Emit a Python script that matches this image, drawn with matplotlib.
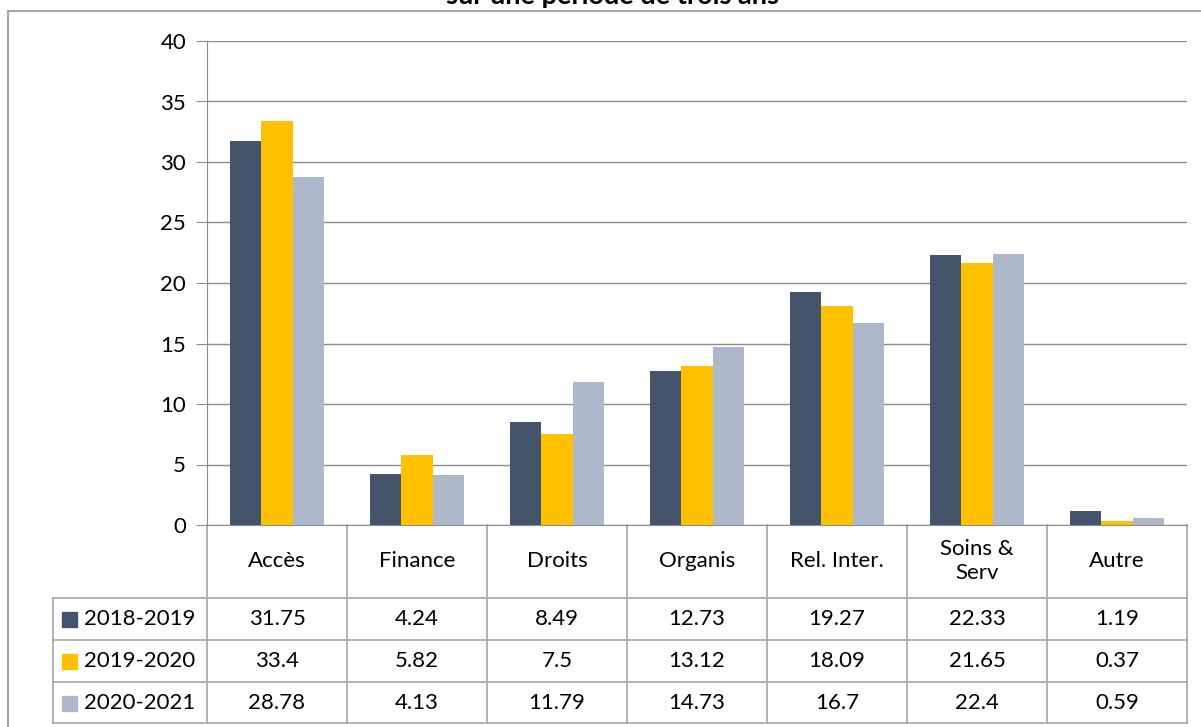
import matplotlib.pyplot as plt
import matplotlib.transforms as mtransforms
from matplotlib.patches import Rectangle
import numpy as np

plt.rcParams['font.family'] = ['Lato', 'DejaVu Sans']

categories = ["Accès", "Finance", "Droits", "Organis", "Rel. Inter.", "Soins &\nServ", "Autre"]
periods = ["2018-2019", "2019-2020", "2020-2021"]
v_2018 = [31.75, 4.24, 8.49, 12.73, 19.27, 22.33, 1.19]
v_2019 = [33.4, 5.82, 7.5, 13.12, 18.09, 21.65, 0.37]
v_2020 = [28.78, 4.13, 11.79, 14.73, 16.7, 22.4, 0.59]
colors = ["#44546A", "#FFC000", "#ADB9CA"]
series = [v_2018, v_2019, v_2020]

W, H = 1201, 727
fs = 16
fig = plt.figure(figsize=(W / 100, H / 100), dpi=100)
ax = fig.add_axes([207 / W, 1 - 525 / H, 980 / W, 484 / H])

x = np.arange(len(categories))
bw = 0.222
for i, (vals, c) in enumerate(zip(series, colors)):
    ax.bar(x + (i - 1) * bw, vals, width=bw, color=c, zorder=3)

ax.set_xlim(-0.5, len(categories) - 0.5)
ax.set_ylim(0, 40)
ax.set_yticks(range(0, 41, 5))
ax.yaxis.grid(True, color="#8C8C8C", linewidth=1)
ax.set_axisbelow(True)
ax.set_xticks([])
ax.tick_params(axis='y', length=8, color="#8C8C8C", labelsize=fs, pad=7)
for s in ["top", "right"]:
    ax.spines[s].set_visible(False)
ax.spines["left"].set_color("#8C8C8C")
ax.spines["bottom"].set_color("#8C8C8C")

# data table below the plot, in pixel units converted to axes fraction
grid_c = "#A6A6A6"
def yf(py):
    return (525 - py) / 484.0

trans = mtransforms.blended_transform_factory(ax.transData, ax.transAxes)
row_lines = [598, 640, 682, 723]
xl = -0.5 - 154 / 140.0
for py in row_lines:
    ax.plot([xl, len(categories) - 0.5], [yf(py), yf(py)], transform=trans,
            color=grid_c, lw=1.2, clip_on=False)
for k in range(len(categories) + 1):
    ax.plot([k - 0.5, k - 0.5], [0, yf(723)], transform=trans,
            color=grid_c, lw=1.2, clip_on=False)
ax.plot([xl, xl], [yf(598), yf(723)], transform=trans, color=grid_c, lw=1.2, clip_on=False)

for k, cat in enumerate(categories):
    ax.text(k, yf(561), cat, transform=trans, ha='center', va='center',
            fontsize=fs, linespacing=1.25)

row_centers = [619, 661, 703]
for r, (name, vals, c) in enumerate(zip(periods, series, colors)):
    yc = yf(row_centers[r])
    ax.add_patch(Rectangle((xl + 9 / 140.0, yc - 7.5 / 484), 15 / 140.0, 15 / 484,
                           transform=trans, color=c, clip_on=False))
    ax.text(xl + 31 / 140.0, yc, name, transform=trans, ha='left', va='center', fontsize=fs)
    for k, v in enumerate(vals):
        ax.text(k, yc, f"{v:g}", transform=trans, ha='center', va='center', fontsize=fs)

# outer chart border
fig.add_artist(plt.Line2D([8 / W, 8 / W], [0, 1 - 11 / H], color=grid_c, lw=1.5))
fig.add_artist(plt.Line2D([8 / W, 1], [1 - 11 / H, 1 - 11 / H], color=grid_c, lw=1.5))

fig.text(612 / W, 1 - 4.5 / H, "sur une période de trois ans", ha='center', va='baseline',
         fontsize=19.5, fontweight='bold')

fig.savefig("out.png", dpi=100)
